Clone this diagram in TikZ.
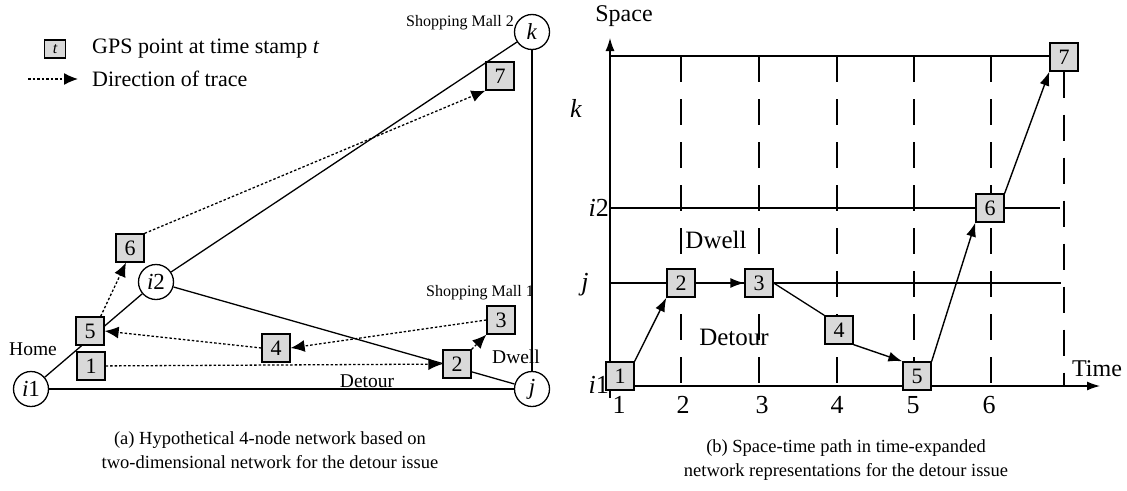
\documentclass[tikz,border=0pt]{standalone}
\usepackage{fontspec}
\setmainfont{Liberation Serif}
\usepackage{xcolor}
\usepackage{tikz}
\usetikzlibrary{arrows.meta}
\definecolor{boxgray}{RGB}{217,217,217}

\begin{document}
\begin{tikzpicture}%
                [x=1pt,y=-1pt,
                every node/.style={inner sep=0pt},
                gps/.style={draw,fill=boxgray,line width=1.3pt,minimum size=28pt,font=\fontsize{22}{22}\selectfont},
                place/.style={circle,draw,fill=white,line width=1.3pt,minimum size=35pt,font=\fontsize{23}{23}\selectfont},
                link/.style={line width=1.3pt},
                trace/.style={line width=1.3pt,dash pattern=on 2.5pt off 2pt,-{Latex[length=14pt,width=12pt]}},
                move/.style={line width=1.4pt,-{Latex[length=14pt,width=10pt]}},
                slot/.style={line width=1.4pt,dash pattern=on 26pt off 17pt},
                tag/.style={font=\fontsize{16}{16}\selectfont},
                tagbig/.style={font=\fontsize{19.5}{19.5}\selectfont},
                legend/.style={font=\fontsize{22}{22}\selectfont},
                caption/.style={font=\fontsize{18.5}{24}\selectfont,align=center},
                axislabel/.style={font=\fontsize{26}{26}\selectfont\itshape},
                axisname/.style={font=\fontsize{24}{24}\selectfont},
                ticklabel/.style={font=\fontsize{26}{26}\selectfont},
                note/.style={font=\fontsize{25}{25}\selectfont}]

            \useasboundingbox (0,0) rectangle (1127,490);

            %% Legend
            \node[gps,minimum size=0pt,minimum width=21pt,minimum height=18pt,font=\fontsize{16}{16}\selectfont\itshape] (keybox) at (55,49) {t};
            \node[legend,anchor=west] (keytext) at (92,49) {GPS point at time stamp \textit{t}};
            \coordinate (keystart) at (28,79);
            \coordinate (keyend) at (78,79);
            \draw[trace] (keystart) -- (keyend);
            \node[legend,anchor=west] (tracetext) at (92,79) {Direction of trace};

            %% (a) Two-dimensional network
            \node[place] (i1) at (31,389) {\textit{i}1};
            \node[place] (i2) at (156,282) {\textit{i}2};
            \node[place] (k) at (532,32) {\textit{k}};
            \node[place] (j) at (532,389) {\textit{j}};
            \draw[link] (i1) -- (j);
            \draw[link] (i1) -- (i2);
            \draw[link] (i2) -- (k);
            \draw[link] (i2) -- (j);
            \draw[link] (k) -- (j);

            \node[tag,anchor=east] (mall2) at (514,23) {Shopping Mall 2};
            \node[tag] (mall1) at (480,293) {Shopping Mall 1};
            \node[tagbig] (home) at (33,349) {Home};
            \node[tagbig] (dwella) at (516,357) {Dwell};
            \node[tagbig] (detoura) at (367,381) {Detour};

            \node[gps] (p1) at (91,366) {1};
            \node[gps] (p2) at (457,364) {2};
            \node[gps] (p3) at (501,320) {3};
            \node[gps] (p4) at (276,348) {4};
            \node[gps] (p5) at (90,331) {5};
            \node[gps] (p6) at (130,248) {6};
            \node[gps] (p7) at (500,76) {7};

            \draw[trace] (p1) -- (p2);
            \draw[trace] (p2.north east) -- (p3.south west);
            \draw[trace] (p3.west) -- (p4.east);
            \draw[trace] (p4.west) -- (p5.east);
            \draw[trace] ([xshift=-4pt]p5.north east) -- ([xshift=-4pt]p6.south);
            \draw[trace] (p6.north east) -- (p7.south west);

            \node[caption] (capa) at (270,450) {(a) Hypothetical 4-node network based on\\two-dimensional network for the detour issue};

            %% (b) Time-expanded network
            \coordinate (origin) at (610,386);
            \coordinate (ytop) at (610,38);
            \coordinate (ybot) at (610,398);
            \coordinate (xend) at (1100,386);
            \draw[link,-{Latex[length=13pt,width=9pt]}] (ybot) -- (ytop);
            \draw[link,-{Latex[length=13pt,width=9pt]}] (origin) -- (xend);
            \node[axisname] (space) at (624,16) {Space};
            \node[axisname] (time) at (1097,369) {Time};

            \node[gps] (b7) at (1064,57) {7};
            \coordinate (rowk) at (610,56);
            \coordinate (rowi2) at (610,208);
            \coordinate (rowj) at (610,283);
            \coordinate (endi2) at (1060,208);
            \coordinate (endj) at (1061,283);
            \draw[link] (rowk) -- (b7.west |- rowk);
            \draw[link] (rowi2) -- (endi2);
            \draw[link] (rowj) -- (endj);

            \foreach \x [count=\t from 2] in {681,759,837,914,991}
                \draw[slot] (\x,56) -- (\x,386);
            \draw[slot] (b7.south) -- (1064,386);

            \foreach \x [count=\t] in {619,683,762,837,913,989}
                \node[ticklabel] (tick\t) at (\x,405) {\t};

            \node[axislabel] (labk) at (576,108) {k};
            \node[axislabel,anchor=east] (labi2) at (609,208) {i\upshape 2};
            \node[axislabel] (labj) at (585,285) {j};
            \node[axislabel,anchor=east] (labi1) at (609,385) {i\upshape 1};

            \node[note] (dwellb) at (716,240) {Dwell};
            \node[note] (detourb) at (734,337) {Detour};

            \node[gps] (b1) at (620,376) {1};
            \node[gps] (b2) at (681,283) {2};
            \node[gps] (b3) at (759,283) {3};
            \node[gps] (b4) at (839,330) {4};
            \node[gps] (b5) at (917,376) {5};
            \node[gps] (b6) at (990,208) {6};

            \draw[move] (b1.north east) -- (b2.south west);
            \draw[move] (b2) -- (b3);
            \draw[link] (b3.east) -- (b4.north west);
            \draw[move] (b4.south east) -- (b5.north west);
            \draw[move] (b5.north east) -- (b6.south west);
            \draw[move] (b6.north east) -- (b7.south west);

            \node[caption] (capb) at (846,460) {(b) Space-time path in time-expanded\\network representations for the detour issue};
            %%
            \end{tikzpicture}
\end{document}
